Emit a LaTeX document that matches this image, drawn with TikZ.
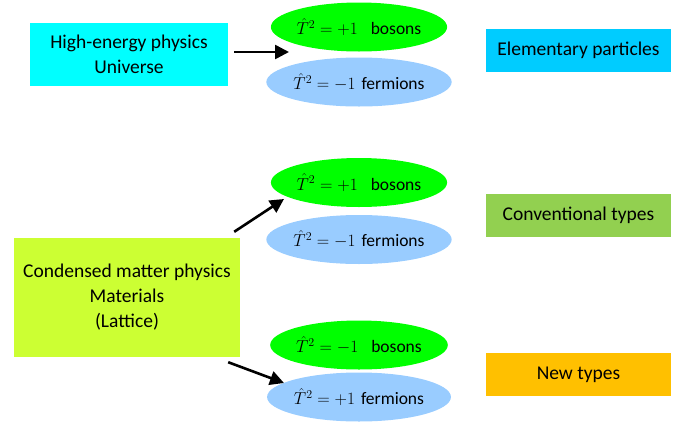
\documentclass[tikz,border=0pt]{standalone}
\usepackage{amsmath,amssymb}
\usepackage{fontspec}
\setmainfont{Carlito}
\usepackage{tikz}
\usetikzlibrary{shapes.geometric,arrows.meta}

\definecolor{hepcyan}{RGB}{0,255,255}
\definecolor{cmplime}{RGB}{204,255,51}
\definecolor{elemblue}{RGB}{0,204,255}
\definecolor{convgreen}{RGB}{146,208,80}
\definecolor{neworange}{RGB}{255,192,0}
\definecolor{bosgreen}{RGB}{0,255,0}
\definecolor{ferblue}{RGB}{153,204,255}

\begin{document}
\begin{tikzpicture}[
  x=1pt, y=-1pt,
  box/.style={rectangle, inner sep=0pt, align=center, font=\fontsize{19.5}{25}\selectfont},
  tag/.style={box, minimum width=185pt, minimum height=43pt},
  bos/.style={ellipse, fill=bosgreen, minimum width=152pt, minimum height=49pt, inner sep=0pt, font=\fontsize{17.5}{20}\selectfont},
  fer/.style={bos, fill=ferblue},
  arr/.style={-{Triangle[length=14pt,width=14pt]}, line width=2.6pt}
]
\useasboundingbox (0,0) rectangle (689,421);

% sources
\node[box, fill=hepcyan, minimum width=198pt, minimum height=63pt] (hep) at (129,54.5) {High-energy physics\\Universe};
\node[box, fill=cmplime, minimum width=226pt, minimum height=119pt] (cmp) at (127,297.5) {Condensed matter physics\\Materials\\(Lattice)};

% particle types
\node[bos] (b1) at (359,27) {$\hat{T}^2=+1$\hspace{13pt}bosons};
\node[fer] (f1) at (359,82) {$\hat{T}^2=-1$\hspace{6pt}fermions};
\node[bos] (b2) at (359,182.5) {$\hat{T}^2=+1$\hspace{13pt}bosons};
\node[fer] (f2) at (359,239.5) {$\hat{T}^2=-1$\hspace{6pt}fermions};
\node[bos] (b3) at (359,345) {$\hat{T}^2=-1$\hspace{13pt}bosons};
\node[fer] (f3) at (359,397) {$\hat{T}^2=+1$\hspace{6pt}fermions};

% labels
\node[tag, fill=elemblue] (elem) at (578.5,50.5) {Elementary particles};
\node[tag, fill=convgreen] (conv) at (578.5,215.5) {Conventional types};
\node[tag, fill=neworange] (newt) at (578.5,374.5) {New types};

% arrows
\coordinate (t1) at (289,52);
\coordinate (t2) at (284,199);
\coordinate (t3) at (284,383);
\draw[arr] ([shift={(6,-2.5)}]hep.east) -- (t1);
\draw[arr] ([shift={(-6,-6)}]cmp.north east) -- (t2);
\draw[arr] ([shift={(-12,5)}]cmp.south east) -- (t3);
\end{tikzpicture}
\end{document}
